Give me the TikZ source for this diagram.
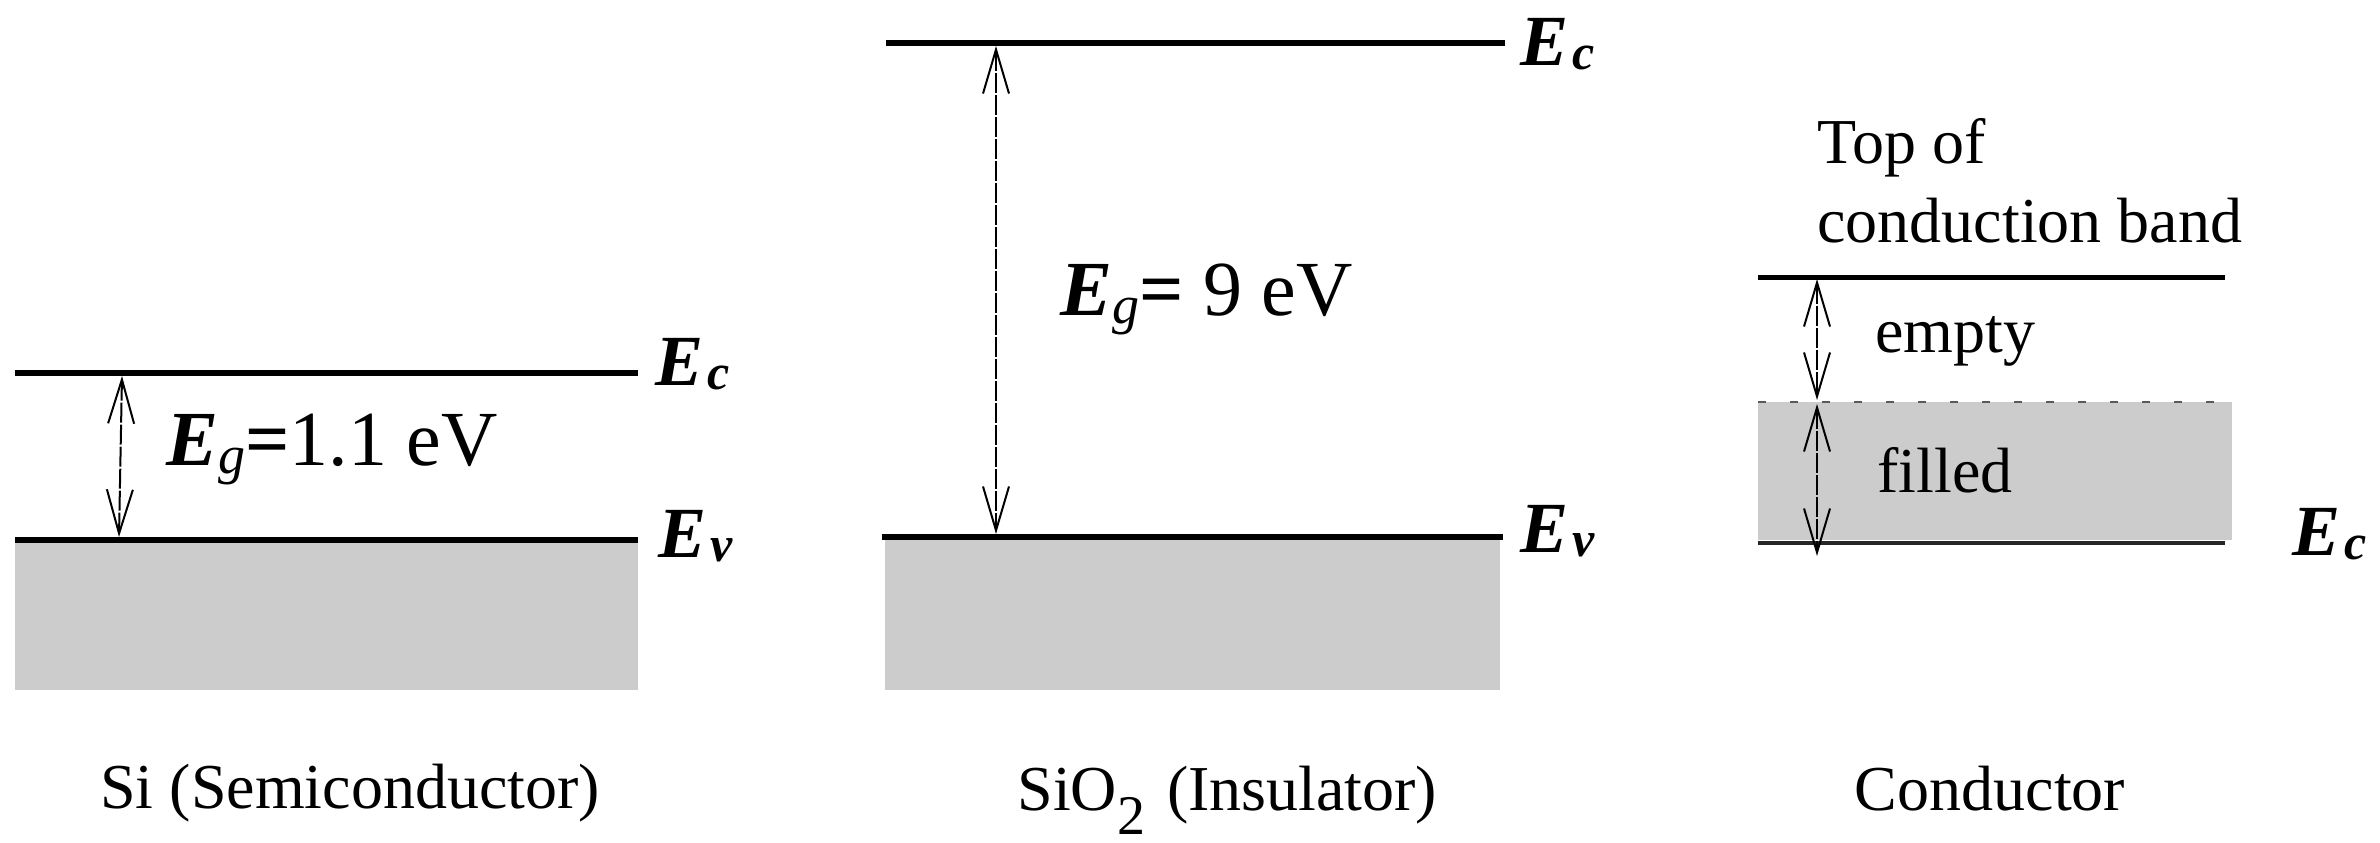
\documentclass[tikz,border=0pt]{standalone}
\usepackage{fontspec}
\setmainfont{Liberation Serif}
\usetikzlibrary{arrows.meta}
\newcommand\Elab[1]{{\bfseries\itshape E}\kern2pt\raisebox{-2pt}{\fontsize{25}{25}\selectfont\bfseries\itshape #1}}
\newcommand\Egap{{\bfseries\itshape E}\raisebox{-4pt}{\fontsize{27}{27}\selectfont\itshape g}{\bfseries =}}
\begin{document}
\begin{tikzpicture}[x=0.5pt,y=-0.5pt,
  level/.style={line width=3pt, line cap=butt},
  gaparrow/.style={line width=1pt, dash pattern=on 10pt off 1pt,
    {Straight Barb[length=22pt,width=13pt,line width=1pt]}-{Straight Barb[length=22pt,width=13pt,line width=1pt]}},
  band/.style={fill=black!20, draw=none},
  lbl/.style={anchor=base west, inner sep=0pt, font=\fontsize{36}{40}\selectfont},
  eglbl/.style={anchor=base west, inner sep=0pt, font=\fontsize{39}{44}\selectfont},
  txt/.style={anchor=base west, inner sep=0pt, font=\fontsize{32}{38}\selectfont},
  captxt/.style={anchor=base, inner sep=0pt, font=\fontsize{32}{38}\selectfont},
]
\useasboundingbox (0,0) rectangle (2380,842);

% ---------- Panel 1: Si ----------
\fill[band] (15,540) rectangle (638,690);
\coordinate (p1cL) at (15,373); \coordinate (p1cR) at (638,373);
\coordinate (p1vL) at (15,540); \coordinate (p1vR) at (638,540);
\draw[level] (p1cL) -- (p1cR);
\draw[level] (p1vL) -- (p1vR);
\coordinate (p1a) at (122,376); \coordinate (p1b) at (119,537);
\draw[gaparrow] (p1a) -- (p1b);
\node[lbl] (p1ec) at (655,385) {\Elab{c}};
\node[lbl] (p1ev) at (658,557) {\Elab{v}};
\node[eglbl] (p1eg) at (166,465) {\Egap1.1 eV};
\node[txt] (p1cap) at (100,808) {Si (Semiconductor)};

% ---------- Panel 2: SiO2 ----------
\fill[band] (885,537) rectangle (1500,690);
\coordinate (p2cL) at (886,43); \coordinate (p2cR) at (1505,43);
\coordinate (p2vL) at (882,537); \coordinate (p2vR) at (1503,537);
\draw[level] (p2cL) -- (p2cR);
\draw[level] (p2vL) -- (p2vR);
\coordinate (p2a) at (996,46); \coordinate (p2b) at (996,534);
\draw[gaparrow] (p2a) -- (p2b);
\node[lbl] (p2ec) at (1520,65) {\Elab{c}};
\node[lbl] (p2ev) at (1520,552) {\Elab{v}};
\node[eglbl] (p2eg) at (1060,315) {\Egap\ 9 eV};
\node[txt] (p2cap) at (1017,810) {SiO\raisebox{-12pt}{\fontsize{28}{28}\selectfont 2}\hspace{11pt}(Insulator)};

% ---------- Panel 3: Conductor ----------
\fill[band] (1758,402) rectangle (2232,540);
\coordinate (p3tL) at (1758,277); \coordinate (p3tR) at (2225,277);
\coordinate (p3fL) at (1758,402); \coordinate (p3fR) at (2232,402);
\coordinate (p3bL) at (1758,543); \coordinate (p3bR) at (2225,543);
\draw[line width=2.5pt] (p3tL) -- (p3tR);
\draw[line width=1pt, black!65, dash pattern=on 4pt off 12pt] (p3fL) -- (p3fR);
\draw[line width=2pt, black!85] (p3bL) -- (p3bR);
\coordinate (p3a) at (1817,279); \coordinate (p3b) at (1817,400);
\coordinate (p3c) at (1817,404); \coordinate (p3d) at (1817,556);
\draw[gaparrow] (p3a) -- (p3b);
\draw[gaparrow] (p3c) -- (p3d);
\node[txt] (p3top) at (1817,163) {Top of};
\node[txt] (p3cb) at (1817,242) {conduction band};
\node[txt] (p3em) at (1875,352) {empty};
\node[txt] (p3fi) at (1877,492) {filled};
\node[lbl] (p3ec) at (2292,555) {\Elab{c}};
\node[captxt] (p3cap) at (1990,810) {Conductor};
\end{tikzpicture}
\end{document}
